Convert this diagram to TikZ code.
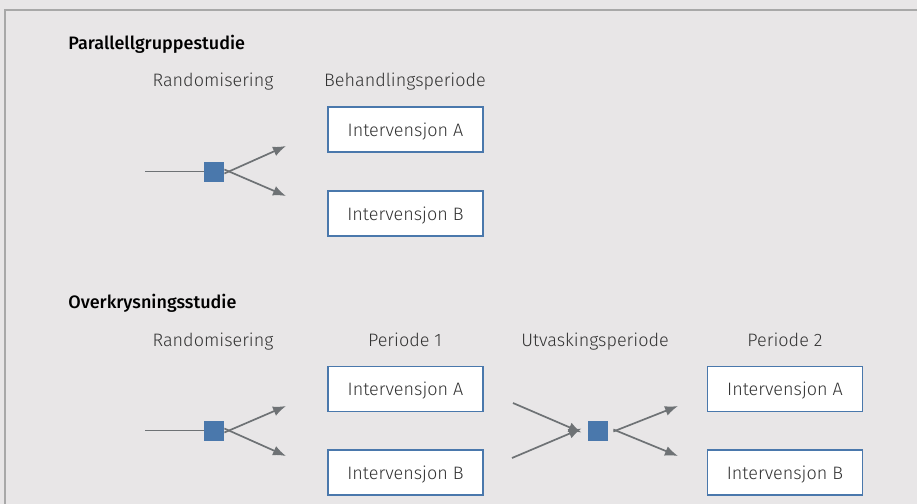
\documentclass[tikz,border=0pt]{standalone}
\usepackage{fontspec}
\setmainfont{Fira Sans Light}[BoldFont=Fira Sans Medium]
\usetikzlibrary{arrows.meta}

\definecolor{bggray}{HTML}{E8E6E7}
\definecolor{framegray}{HTML}{A8A8A8}
\definecolor{boxblue}{HTML}{4A78AC}
\definecolor{arrowgray}{HTML}{6E7275}
\definecolor{textgray}{HTML}{333333}

\tikzset{
  every node/.style={font=\fontsize{9}{11}\selectfont},
  interv/.style={draw=boxblue,line width=0.8pt,fill=white,minimum width=77.5pt,
    minimum height=22.5pt,inner sep=0pt,text height=6.5pt,text depth=0pt,
    text=textgray},
  randsq/.style={fill=boxblue,minimum size=10pt,inner sep=0pt},
  phase/.style={text=textgray,inner sep=0pt,anchor=base},
  title/.style={text=black,font=\fontsize{9}{11}\selectfont\bfseries,
    anchor=base west,inner sep=0pt},
  flow/.style={arrowgray,line width=0.85pt,-{Latex[length=6.5pt,width=5pt]}},
  feed/.style={arrowgray,line width=0.85pt}
}

\begin{document}
\begin{tikzpicture}[x=0.5pt,y=-0.5pt]
    \fill[bggray] (0,0) rectangle (917,504);
    \useasboundingbox (0,0) rectangle (917,504);
    \draw[framegray,line width=0.8pt] (5,504) -- (5,10) -- (917,10);

    % Parallellgruppestudie
    \node[title] (ptitle) at (68,49) {Parallellgruppestudie};
    \node[phase] (prand) at (213,86) {Randomisering};
    \node[phase] (pbeh) at (405,86) {Behandlingsperiode};
    \node[interv] (pA) at (405.5,129.5) {Intervensjon A};
    \node[interv] (pB) at (405.5,213.5) {Intervensjon B};
    \node[randsq] (psq) at (214,171.5) {};
    \coordinate (pin) at (145,171.5);
    \coordinate (pendA) at (286,146);
    \coordinate (pendB) at (286,196);
    \draw[feed] (pin) -- (psq.west);
    \draw[flow] ([yshift=-1pt]psq.east) -- (pendA);
    \draw[flow] ([yshift=1pt]psq.east) -- (pendB);

    % Overkrysningsstudie
    \node[title] (otitle) at (68,308) {Overkrysningsstudie};
    \node[phase] (orand) at (213,346) {Randomisering};
    \node[phase] (oper1) at (405,346) {Periode 1};
    \node[phase] (owash) at (595,346) {Utvaskingsperiode};
    \node[phase] (oper2) at (785,346) {Periode 2};
    \node[interv] (oA1) at (405.5,389) {Intervensjon A};
    \node[interv] (oB1) at (405.5,472.5) {Intervensjon B};
    \node[interv] (oA2) at (785,389) {Intervensjon A};
    \node[interv] (oB2) at (785,472.5) {Intervensjon B};
    \node[randsq] (osq) at (214,430.5) {};
    \node[randsq] (wsq) at (598,430.5) {};
    \coordinate (oin) at (145,430.5);
    \coordinate (oendA) at (286,406);
    \coordinate (oendB) at (286,456);
    \coordinate (wfromA) at (513,403);
    \coordinate (wfromB) at (512,458);
    \coordinate (wendA) at (678,406);
    \coordinate (wendB) at (678,456);
    \draw[feed] (oin) -- (osq.west);
    \draw[flow] ([yshift=-1pt]osq.east) -- (oendA);
    \draw[flow] ([yshift=1pt]osq.east) -- (oendB);
    \draw[flow] (wfromA) -- ([xshift=-3pt,yshift=-1pt]wsq.west);
    \draw[flow] (wfromB) -- ([xshift=-3pt,yshift=1pt]wsq.west);
    \draw[flow] ([xshift=2.5pt,yshift=-0.5pt]wsq.east) -- (wendA);
    \draw[flow] ([xshift=2.5pt,yshift=0.5pt]wsq.east) -- (wendB);
\end{tikzpicture}
\end{document}
